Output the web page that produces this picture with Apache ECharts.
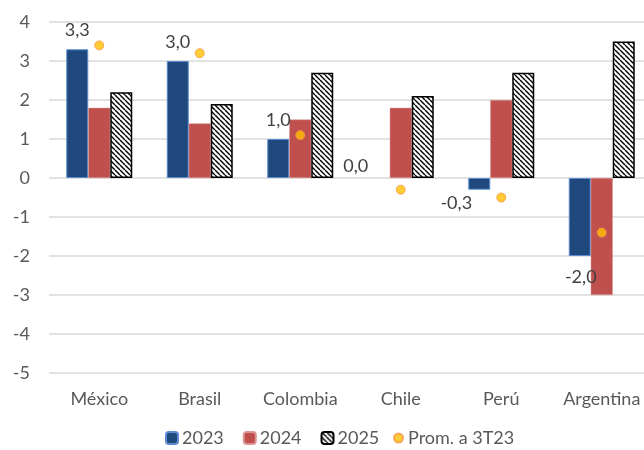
<!DOCTYPE html>
<html>
<head>
<meta charset="utf-8">
<script src="https://cdn.jsdelivr.net/npm/echarts@6/dist/echarts.min.js"></script>
<style>
  html, body { margin: 0; padding: 0; background: #fff; overflow: hidden; }
  /* the plot area runs slightly past the right edge of the view */
  #chart { width: 652px; height: 450px; }
</style>
</head>
<body>
<div id="chart"></div>
<script>
// Countries on the category axis
const countries = ['México', 'Brasil', 'Colombia', 'Chile', 'Perú', 'Argentina'];
// Annual values per country (%)
const values2023 = [3.3, 3.0, 1.0, 0.0, -0.3, -2.0];
const values2024 = [1.8, 1.4, 1.5, 1.8, 2.0, -3.0];
const values2025 = [2.2, 1.9, 2.7, 2.1, 2.7, 3.5];
// Average up to 3Q23
const promValues = [3.4, 3.2, 1.1, -0.3, -0.5, -1.4];
// Value axis ticks
const yTicks = [-5, -4, -3, -2, -1, 0, 1, 2, 3, 4];

const fontFamily = 'Lato, "Noto Sans", sans-serif';
const textColor = '#595959';

// Diagonal hatch tile (lines running top-left to bottom-right)
function hatchTile() {
  const s = 5;
  const c = document.createElement('canvas');
  c.width = s; c.height = s;
  const g = c.getContext('2d');
  g.fillStyle = '#ffffff';
  g.fillRect(0, 0, s, s);
  g.strokeStyle = '#000000';
  g.lineWidth = 1.4;
  for (const x0 of [-s, 0, s]) {
    g.beginPath();
    g.moveTo(x0, 0);
    g.lineTo(x0 + s, s);
    g.stroke();
  }
  return c;
}

const fmt = v => v.toFixed(1).replace('.', ',');

// Per-point label placement for the 2023 series
const labelPlacement = [
  { position: 'top' },
  { position: 'top' },
  { position: 'top' },
  { position: 'top', offset: [-23, 7] },
  { position: 'bottom', offset: [-23, -6] },
  { position: 'bottom', offset: [1, 2] }
];

const data2023 = values2023.map((v, i) => {
  const item = { value: v, label: Object.assign({ show: true }, labelPlacement[i]) };
  if (v === 0) item.itemStyle = { borderWidth: 0 };
  return item;
});

const chart = echarts.init(document.getElementById('chart'), null, { renderer: 'canvas' });

chart.setOption({
  animation: false,
  backgroundColor: '#ffffff',
  textStyle: { fontFamily },
  grid: { left: 49, right: 0, top: 22, bottom: 77, containLabel: false },
  legend: [
    {
      data: ['2023', '2024', '2025'],
      left: 165,
      top: 429,
      padding: 0,
      itemWidth: 12,
      itemHeight: 12,
      itemGap: 19,
      textStyle: { fontSize: 18, color: textColor, fontFamily, padding: [0, 0, 0, -1] }
    },
    {
      data: [{ name: 'Prom. a 3T23', icon: 'circle' }],
      left: 393,
      top: 429,
      padding: 0,
      itemWidth: 9,
      itemHeight: 9,
      textStyle: { fontSize: 18, color: textColor, fontFamily }
    }
  ],
  xAxis: {
    type: 'category',
    data: countries,
    axisLine: { show: false, onZero: false },
    axisTick: { show: false },
    axisLabel: { interval: 0, fontSize: 18, color: textColor, margin: 17, fontFamily }
  },
  yAxis: {
    type: 'value',
    min: yTicks[0],
    max: yTicks[yTicks.length - 1],
    interval: 1,
    axisLine: { show: false },
    axisTick: { show: false },
    splitLine: { lineStyle: { color: '#d9d9d9', width: 1.5 } },
    axisLabel: { fontSize: 18, color: textColor, margin: 19, fontFamily }
  },
  series: [
    {
      name: '2023',
      type: 'bar',
      data: data2023,
      barWidth: 22,
      barGap: '0%',
      itemStyle: { color: '#1f497d', borderColor: '#5b8bd0', borderWidth: 1 },
      label: {
        show: true,
        fontSize: 18,
        color: '#404040',
        distance: 10,
        fontFamily,
        formatter: p => fmt(p.value)
      }
    },
    {
      name: '2024',
      type: 'bar',
      data: values2024,
      barWidth: 22,
      barGap: '0%',
      itemStyle: { color: '#c0504d', borderColor: '#d99694', borderWidth: 0.5 }
    },
    {
      name: '2025',
      type: 'bar',
      data: values2025,
      barWidth: 22,
      barGap: '0%',
      itemStyle: {
        color: { image: hatchTile(), repeat: 'repeat' },
        borderColor: '#000000',
        borderWidth: 1.5
      }
    },
    {
      name: 'Prom. a 3T23',
      type: 'scatter',
      data: promValues,
      symbol: 'circle',
      symbolSize: 9,
      itemStyle: { color: '#ffc000', borderColor: '#f79646', borderWidth: 1 },
      z: 5
    }
  ]
});
</script>
</body>
</html>
